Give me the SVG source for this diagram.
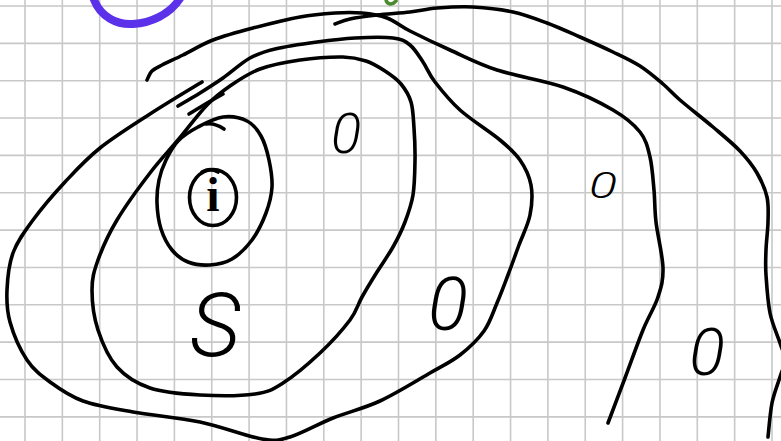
<svg xmlns="http://www.w3.org/2000/svg" width="781" height="441" viewBox="0 0 781 441">
<style>
.grid{stroke:#c8c8c8;stroke-width:1.6;fill:none}
.ink{stroke:#000;stroke-width:3.6;fill:none;stroke-linecap:round;stroke-linejoin:round}
.lbl{font-family:Roboto,"Liberation Sans","DejaVu Sans",sans-serif;font-weight:300;font-style:italic;fill:#000;text-anchor:middle}
</style>
<rect width="781" height="441" fill="#fff"/>
<g id="grid">
<path class="grid" d="M25 0V441M62.35 0V441M99.7 0V441M137.05 0V441M174.4 0V441M211.75 0V441M249.1 0V441M286.45 0V441M323.8 0V441M361.15 0V441M398.5 0V441M435.85 0V441M473.2 0V441M510.55 0V441M547.9 0V441M585.25 0V441M622.6 0V441M659.95 0V441M697.3 0V441M734.65 0V441M772 0V441M0 6H781M0 43.35H781M0 80.7H781M0 118.05H781M0 155.4H781M0 192.75H781M0 230.1H781M0 267.45H781M0 304.8H781M0 342.15H781M0 379.5H781M0 416.85H781"/>
</g>
<g id="marks">
<path d="M93,-3 C100,18 118,25 133,24 C150,23 170,15 181,-3" fill="none" stroke="#5b31ea" stroke-width="8" stroke-linecap="round"/>
<path d="M386,-1 C386,4 392,6 396,1" fill="none" stroke="#4b8a2c" stroke-width="3.5" stroke-linecap="round"/>
</g>
<g id="curves">
<path id="curve-a" class="ink" d="M147,80 C147.8,78.5 149.5,73.5 152,71 C154.5,68.5 156.8,67.7 162,65 C167.2,62.3 174.5,59.2 183,55 C191.5,50.8 201.3,44.5 213,40 C224.7,35.5 238.5,31.8 253,28 C267.5,24.2 286.3,19.5 300,17 C313.7,14.5 324.7,13.7 335,13 C345.3,12.3 353.3,12.2 362,13 C370.7,13.8 379,15 387,18 C395,21 399.5,25.7 410,31 C420.5,36.3 435.5,43.5 450,50 C464.5,56.5 478.2,63.8 497,70 C515.8,76.2 543.7,80.3 563,87 C582.3,93.7 600.2,102.5 613,110 C625.8,117.5 633.8,124.2 640,132 C646.2,139.8 647.7,147.3 650,157 C652.3,166.7 653,179.2 654,190 C655,200.8 654.5,209 656,222 C657.5,235 662.7,255.5 663,268 C663.3,280.5 661.3,286.7 658,297 C654.7,307.3 648.5,316.5 643,330 C637.5,343.5 630.8,362.5 625,378 C619.2,393.5 610.8,415.5 608,423"/>
<path id="curve-y" class="ink" d="M335,24 C337.5,23.2 343,20.5 350,19 C357,17.5 367,16.2 377,15 C387,13.8 400,13.2 410,12 C420,10.8 426.5,8.8 437,8 C447.5,7.2 460.3,6.3 473,7 C485.7,7.7 500.7,9.3 513,12 C525.3,14.7 535.8,18.8 547,23 C558.2,27.2 569,32.2 580,37 C591,41.8 603,47.2 613,52 C623,56.8 631.7,60.7 640,66 C648.3,71.3 656.3,78.3 663,84 C669.7,89.7 671.7,92.8 680,100 C688.3,107.2 703,118.5 713,127 C723,135.5 732.7,143.3 740,151 C747.3,158.7 752.5,165.3 757,173 C761.5,180.7 765.2,188.8 767,197 C768.8,205.2 768.2,213.2 768,222 C767.8,230.8 766.3,241.2 766,250 C765.7,258.8 765.3,264.5 766,275 C766.7,285.5 767.7,301.7 770,313 C772.3,324.3 777.5,335.2 780,343 C782.5,350.8 785,354.3 785,360 C785,365.7 782.2,369.8 780,377 C777.8,384.2 774,393 772,403 C770,413 768.7,431.3 768,437"/>
<path id="curve-z" class="ink" d="M178,106 C181.7,103.8 192.5,97.7 200,93 C207.5,88.3 214.7,83.8 223,78 C231.3,72.2 241.3,62.8 250,58 C258.7,53.2 263.8,51.7 275,49 C286.2,46.3 303.7,43.8 317,42 C330.3,40.2 342.3,38.7 355,38 C367.7,37.3 383.8,36.8 393,38 C402.2,39.2 405,41 410,45 C415,49 418.8,55.8 423,62 C427.2,68.2 428.8,74 435,82 C441.2,90 449.2,100.3 460,110 C470.8,119.7 490,131.7 500,140 C510,148.3 514.8,152.5 520,160 C525.2,167.5 529.3,175.8 531,185 C532.7,194.2 532,205 530,215 C528,225 522.7,235 519,245 C515.3,255 511.7,265.3 508,275 C504.3,284.7 501,293.7 497,303 C493,312.3 490.2,322.3 484,331 C477.8,339.7 469,348 460,355 C451,362 443.3,365.3 430,373 C416.7,380.7 396.2,393.5 380,401 C363.8,408.5 348,412 333,418 C318,424 301.8,433.5 290,437 C278.2,440.5 277,441.5 262,439 C247,436.5 221.5,426.5 200,422 C178.5,417.5 152.5,415.5 133,412 C113.5,408.5 96.8,406 83,401 C69.2,396 59.3,388.8 50,382 C40.7,375.2 33.7,370 27,360 C20.3,350 13.3,333.7 10,322 C6.7,310.3 6.5,301.5 7,290 C7.5,278.5 8.7,264.7 13,253 C17.3,241.3 24.3,231.8 33,220 C41.7,208.2 53.8,194 65,182 C76.2,170 85.8,159.3 100,148 C114.2,136.7 133,125 150,114 C167,103 193.3,87.3 202,82"/>
<path id="curve-w" class="ink" d="M207,105 C215.7,96 221.2,92 230,86 C238.8,80 248.3,73.3 260,69 C271.7,64.7 286.2,62 300,60 C313.8,58 332,56.8 343,57 C354,57.2 359,58.7 366,61 C373,63.3 379.2,67.2 385,71 C390.8,74.8 396.7,78.8 401,84 C405.3,89.2 408.8,94.7 411,102 C413.2,109.3 413.3,118.3 414,128 C414.7,137.7 415.2,148.8 415,160 C414.8,171.2 414.7,184.7 413,195 C411.3,205.3 408.3,213.3 405,222 C401.7,230.7 397.7,238.7 393,247 C388.3,255.3 382.2,263.7 377,272 C371.8,280.3 366.5,289 362,297 C357.5,305 357,310.7 350,320 C343,329.3 331.2,342.5 320,353 C308.8,363.5 293.8,376.2 283,383 C272.2,389.8 268.8,392 255,394 C241.2,396 217.5,396 200,395 C182.5,394 163.8,392.7 150,388 C136.2,383.3 125.7,376.7 117,367 C108.3,357.3 102.2,342.8 98,330 C93.8,317.2 92,301.7 92,290 C92,278.3 93.8,271.7 98,260 C102.2,248.3 108.3,234.5 117,220 C125.7,205.5 139.8,186.3 150,173 C160.2,159.7 168.5,151.3 178,140 C187.5,128.7 198.3,114 207,105 Z"/>
<path id="tick" class="ink" d="M189,114 C200,107 212,100 223,94"/>
</g>
<g id="node-i">
<path class="ink" d="M178,141 C183.3,135.5 190.5,131 198,127 C205.5,123 214.8,118 223,117 C231.2,116 240.7,117.8 247,121 C253.3,124.2 257.3,129.5 261,136 C264.7,142.5 267.2,151.5 269,160 C270.8,168.5 272.5,178.2 272,187 C271.5,195.8 269.3,204.2 266,213 C262.7,221.8 257.7,232.3 252,240 C246.3,247.7 239,254.8 232,259 C225,263.2 217.3,264.5 210,265 C202.7,265.5 194.3,264.5 188,262 C181.7,259.5 176.5,255.5 172,250 C167.5,244.5 163.5,236.8 161,229 C158.5,221.2 157.3,211.2 157,203 C156.7,194.8 157.5,187.2 159,180 C160.5,172.8 162.8,166.5 166,160 C169.2,153.5 172.7,146.5 178,141 Z"/>
<path class="ink" d="M206,124 C212,123 218,125 224,129"/>
<ellipse class="ink" cx="213" cy="197.5" rx="23.5" ry="28"/>
<path class="ink" d="M202,172 C207,169 213,169 218,172"/>
<text x="213" y="211" font-family="Liberation Serif, DejaVu Serif, serif" font-size="48" font-weight="bold" fill="#000" text-anchor="middle">i</text>
</g>
<g id="labels">
<text class="lbl" x="215" y="356" font-size="88">S</text>
<text class="lbl" x="346" y="153" font-size="56">0</text>
<text class="lbl" x="603" y="198" font-size="36" transform="translate(603 190) scale(1.45 1) translate(-603 -190)">0</text>
<text class="lbl" x="448" y="330" font-size="74">0</text>
<text class="lbl" x="707" y="375" font-size="66">0</text>
</g>
</svg>
